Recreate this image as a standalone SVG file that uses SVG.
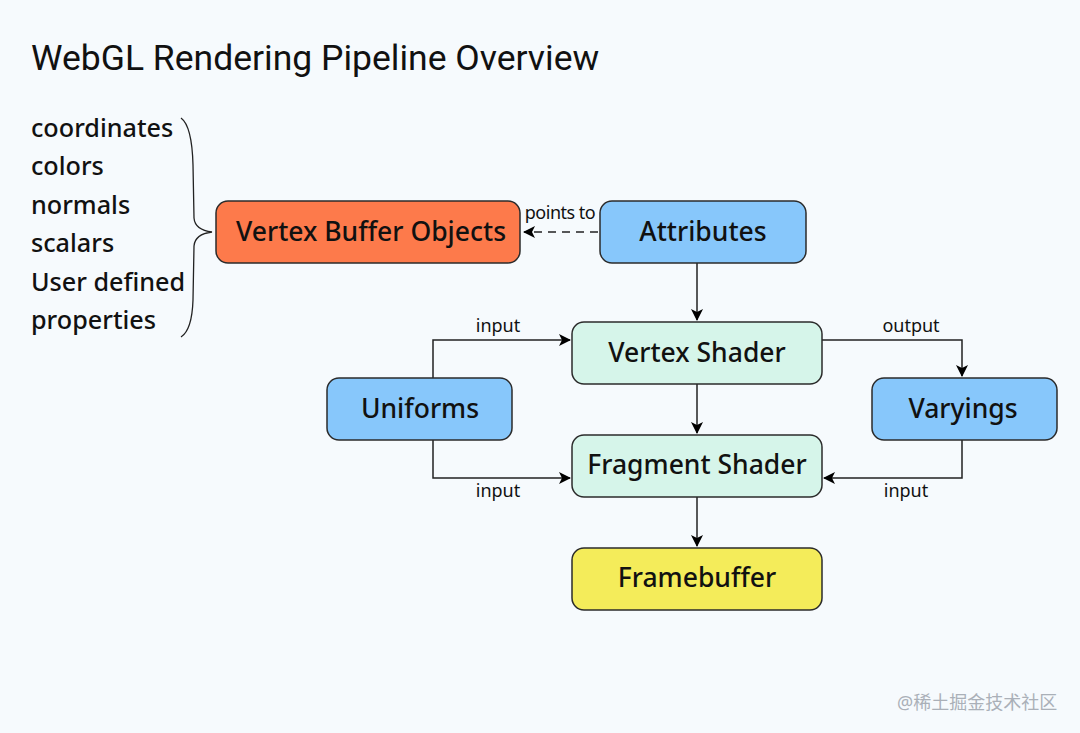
<svg xmlns="http://www.w3.org/2000/svg" width="1080" height="733" viewBox="0 0 1080 733">
<defs>
<marker id="arr" viewBox="0 0 12 12" refX="11" refY="6" markerWidth="12" markerHeight="12" markerUnits="userSpaceOnUse" orient="auto">
<path d="M0,0 L12,6 L0,12 L3,6 Z" fill="#000"/>
</marker>
</defs>
<style>
.node{stroke:#2b2b2b;stroke-width:1.5}
.nt{font-family:"Noto Sans","Open Sans",sans-serif;font-size:26.5px;font-weight:500;fill:#111;text-anchor:middle}
.lab{font-family:"Noto Sans","Open Sans",sans-serif;font-size:18px;fill:#111;text-anchor:middle}
.side{font-family:"Noto Sans","Open Sans",sans-serif;font-size:25.2px;font-weight:500;fill:#111}
.con{fill:none;stroke:#222;stroke-width:1.5}
</style>
<rect width="1080" height="733" fill="#f6fafd"/>
<text x="31" y="70" font-family="Roboto,'Noto Sans',sans-serif" font-size="35.5" fill="#111">WebGL Rendering Pipeline Overview</text>
<g id="properties-list">
<text class="side" x="31" y="137">coordinates</text>
<text class="side" x="31" y="175">colors</text>
<text class="side" x="31" y="214">normals</text>
<text class="side" x="31" y="252">scalars</text>
<text class="side" x="31" y="291">User defined</text>
<text class="side" x="31" y="329">properties</text>
<path d="M181,118 Q192,126 193,165 L194,218 Q195,230 212,232 Q195,234 194,246 L193,300 Q192,330 181,337" fill="none" stroke="#222" stroke-width="1.3"/>
</g>
<g id="connectors">
<line class="con" x1="598" y1="232" x2="524" y2="232" stroke-dasharray="8,6" marker-end="url(#arr)"/>
<line class="con" x1="697" y1="263" x2="697" y2="320" marker-end="url(#arr)"/>
<line class="con" x1="697" y1="384" x2="697" y2="433" marker-end="url(#arr)"/>
<line class="con" x1="697" y1="497" x2="697" y2="546" marker-end="url(#arr)"/>
<polyline class="con" points="433,378 433,340 570,340" marker-end="url(#arr)"/>
<polyline class="con" points="433,440 433,478 570,478" marker-end="url(#arr)"/>
<polyline class="con" points="822,340 962,340 962,376" marker-end="url(#arr)"/>
<polyline class="con" points="962,440 962,478 824,478" marker-end="url(#arr)"/>
<text class="lab" x="560" y="219" font-size="17" letter-spacing="-0.5">points to</text>
<text class="lab" x="498" y="332">input</text>
<text class="lab" x="498" y="497">input</text>
<text class="lab" x="911" y="332">output</text>
<text class="lab" x="906" y="497">input</text>
</g>
<g id="vbo">
<rect class="node" x="216" y="201" width="304" height="62" rx="12" fill="#fd7a4b"/>
<text class="nt" x="371" y="241">Vertex Buffer Objects</text>
</g>
<g id="attributes">
<rect class="node" x="600" y="201" width="206" height="62" rx="12" fill="#87c7fb"/>
<text class="nt" x="703" y="241">Attributes</text>
</g>
<g id="vertex-shader">
<rect class="node" x="572" y="322" width="250" height="62" rx="12" fill="#d6f5ea"/>
<text class="nt" x="697" y="362">Vertex Shader</text>
</g>
<g id="uniforms">
<rect class="node" x="327" y="378" width="185" height="62" rx="12" fill="#87c7fb"/>
<text class="nt" x="420" y="418">Uniforms</text>
</g>
<g id="varyings">
<rect class="node" x="872" y="378" width="185" height="62" rx="12" fill="#87c7fb"/>
<text class="nt" x="963" y="418">Varyings</text>
</g>
<g id="fragment-shader">
<rect class="node" x="572" y="435" width="250" height="62" rx="12" fill="#d6f5ea"/>
<text class="nt" x="697" y="474">Fragment Shader</text>
</g>
<g id="framebuffer">
<rect class="node" x="572" y="548" width="250" height="62" rx="12" fill="#f4ec5a"/>
<text class="nt" x="697" y="587">Framebuffer</text>
</g>
<text x="897" y="709" font-family="'Noto Sans','Noto Sans CJK SC',sans-serif" font-size="18" fill="#aab0b8">@稀土掘金技术社区</text>
</svg>
